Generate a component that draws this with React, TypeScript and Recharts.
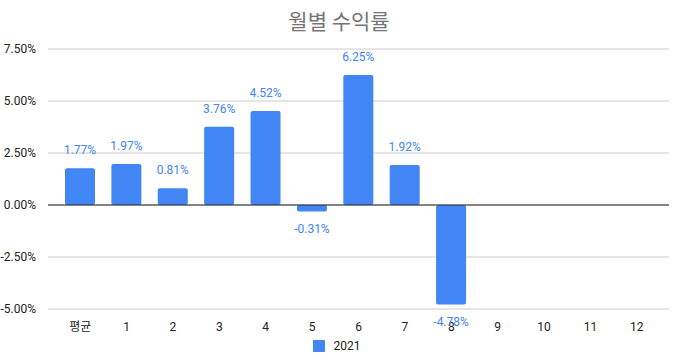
import React from 'react';
import { BarChart, Bar, XAxis, YAxis, CartesianGrid, ReferenceLine, LabelList, Legend } from 'recharts';

const categories = ['평균', '1', '2', '3', '4', '5', '6', '7', '8', '9', '10', '11', '12'];
const returns2021: (number | null)[] = [1.77, 1.97, 0.81, 3.76, 4.52, -0.31, 6.25, 1.92, -4.78, null, null, null, null];
const yTicks = [-5, -2.5, 0, 2.5, 5, 7.5];
const seriesName = '2021';
const title = '월별 수익률';

const data = categories.map((c, i) => ({ month: c, v: returns2021[i] }));

const FONT = 'Roboto, Arial, "Noto Sans CJK KR", sans-serif';
const BLUE = '#4285F4';

const renderLabel = (props: any) => {
  const { x, y, width, height, value } = props;
  if (value === null || value === undefined) return null;
  const cx = Number(x) + Number(width) / 2;
  const top = Math.min(Number(y), Number(y) + Number(height));
  const bottom = Math.max(Number(y), Number(y) + Number(height));
  const cy = value >= 0 ? top - 18 : bottom + 18;
  return (
    <text x={cx} y={cy} textAnchor="middle" dominantBaseline="central" fill={BLUE} fontSize={12} fontFamily={FONT}>
      {Number(value).toFixed(2) + '%'}
    </text>
  );
};

const renderLegend = () => (
  <div style={{ display: 'flex', justifyContent: 'center', alignItems: 'center', fontFamily: FONT, fontSize: 12, color: '#222', paddingLeft: 4 }}>
    <span style={{ display: 'inline-block', width: 12, height: 12, background: BLUE, borderRadius: 1, marginRight: 9 }} />
    <span>{seriesName}</span>
  </div>
);

export default function App() {
  return (
    <div style={{ position: 'absolute', left: 0, top: 0, width: 674, height: 362, background: '#fff' }}>
      <div style={{ position: 'absolute', left: 0, top: 5, width: 678, textAlign: 'center', fontFamily: '"Noto Sans CJK KR", sans-serif', fontSize: 21, color: '#757575' }}>
        {title}
      </div>
      <BarChart width={674} height={362} data={data} margin={{ top: 49, right: 5, left: 0, bottom: 0 }}>
        <CartesianGrid vertical={false} stroke="#cccccc" />
        <XAxis
          dataKey="month"
          axisLine={false}
          tickLine={false}
          height={30}
          interval={0}
          padding={{ left: 9, right: 9 }}
          tick={{ fill: '#222', fontSize: 12, fontFamily: FONT }}
          tickMargin={7}
        />
        <YAxis
          domain={[-5, 7.5]}
          ticks={yTicks}
          axisLine={false}
          tickLine={false}
          width={48}
          tickMargin={6}
          tickFormatter={(v: number) => v.toFixed(2) + '%'}
          tick={{ fill: '#222', fontSize: 12, fontFamily: FONT }}
        />
        <ReferenceLine y={0} stroke="#222" strokeWidth={1} />
        <Legend verticalAlign="bottom" height={23} content={renderLegend} />
        <Bar dataKey="v" name={seriesName} fill={BLUE} barSize={30} radius={2} isAnimationActive={false}>
          <LabelList dataKey="v" content={renderLabel} />
        </Bar>
      </BarChart>
    </div>
  );
}
